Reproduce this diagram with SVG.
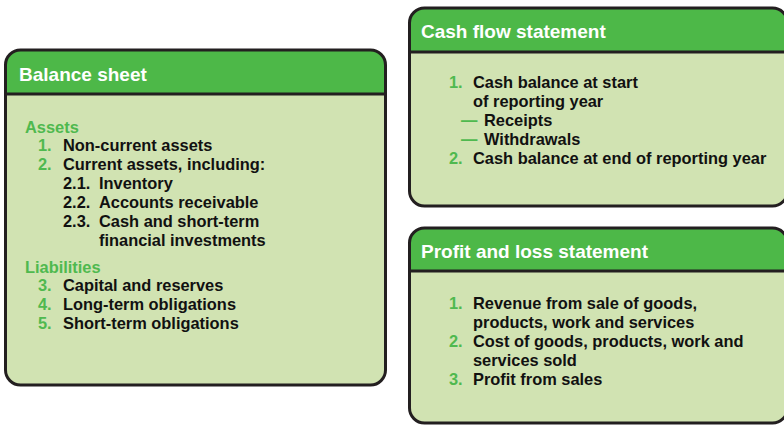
<svg xmlns="http://www.w3.org/2000/svg" width="784" height="425" viewBox="0 0 784 425">
<style>
.body{fill:#d1e3b2;stroke:none}
.head{fill:#4db848;stroke:none}
.frame{fill:none;stroke:#231f20;stroke-width:3}
.div{stroke:#231f20;stroke-width:3}
text{font-family:"Liberation Sans",Arial,sans-serif;font-weight:bold}
.title{font-size:19px;fill:#ffffff}
.t{font-size:16.4px;fill:#111111}
.g{font-size:16.4px;fill:#4fb94f}
</style>
<rect width="784" height="425" fill="#ffffff"/>
<g id="balance-sheet">
<rect class="body" x="5.5" y="50" width="380" height="335" rx="15"/>
<path class="head" d="M5.5,94 V65 A15,15 0 0 1 20.5,50 H370.5 A15,15 0 0 1 385.5,65 V94 Z"/>
<line class="div" x1="5.5" y1="94" x2="385.5" y2="94"/>
<rect class="frame" x="5.5" y="50" width="380" height="335" rx="15"/>
<text class="title" x="19" y="81">Balance sheet</text>
<text class="g" x="25" y="133">Assets</text>
<text class="g" x="38" y="151">1.</text><text class="t" x="63" y="151">Non-current assets</text>
<text class="g" x="38" y="170">2.</text><text class="t" x="63" y="170">Current assets, including:</text>
<text class="t" x="63" y="189">2.1.</text><text class="t" x="99" y="189">Inventory</text>
<text class="t" x="63" y="208">2.2.</text><text class="t" x="99" y="208">Accounts receivable</text>
<text class="t" x="63" y="227">2.3.</text><text class="t" x="99" y="227">Cash and short-term</text>
<text class="t" x="99" y="246">financial investments</text>
<text class="g" x="25" y="273">Liabilities</text>
<text class="g" x="38" y="291">3.</text><text class="t" x="63" y="291">Capital and reserves</text>
<text class="g" x="38" y="310">4.</text><text class="t" x="63" y="310">Long-term obligations</text>
<text class="g" x="38" y="329">5.</text><text class="t" x="63" y="329">Short-term obligations</text>
</g>
<g id="cash-flow-statement">
<rect class="body" x="409.5" y="8" width="378" height="198" rx="15"/>
<path class="head" d="M409.5,52 V23 A15,15 0 0 1 424.5,8 H772.5 A15,15 0 0 1 787.5,23 V52 Z"/>
<line class="div" x1="409.5" y1="52" x2="787.5" y2="52"/>
<rect class="frame" x="409.5" y="8" width="378" height="198" rx="15"/>
<text class="title" x="421" y="38">Cash flow statement</text>
<text class="g" x="449" y="88">1.</text><text class="t" x="473" y="88">Cash balance at start</text>
<text class="t" x="473" y="107">of reporting year</text>
<text class="g" x="461" y="126">—</text><text class="t" x="484" y="126">Receipts</text>
<text class="g" x="461" y="145">—</text><text class="t" x="484" y="145">Withdrawals</text>
<text class="g" x="449" y="164">2.</text><text class="t" x="473" y="164">Cash balance at end of reporting year</text>
</g>
<g id="profit-and-loss-statement">
<rect class="body" x="409.5" y="228" width="378" height="195" rx="15"/>
<path class="head" d="M409.5,271 V243 A15,15 0 0 1 424.5,228 H772.5 A15,15 0 0 1 787.5,243 V271 Z"/>
<line class="div" x1="409.5" y1="271" x2="787.5" y2="271"/>
<rect class="frame" x="409.5" y="228" width="378" height="195" rx="15"/>
<text class="title" x="421" y="258">Profit and loss statement</text>
<text class="g" x="449" y="309">1.</text><text class="t" x="473" y="309">Revenue from sale of goods,</text>
<text class="t" x="473" y="328">products, work and services</text>
<text class="g" x="449" y="347">2.</text><text class="t" x="473" y="347">Cost of goods, products, work and</text>
<text class="t" x="473" y="366">services sold</text>
<text class="g" x="449" y="385">3.</text><text class="t" x="473" y="385">Profit from sales</text>
</g>
<g id="connectors"></g>
</svg>
